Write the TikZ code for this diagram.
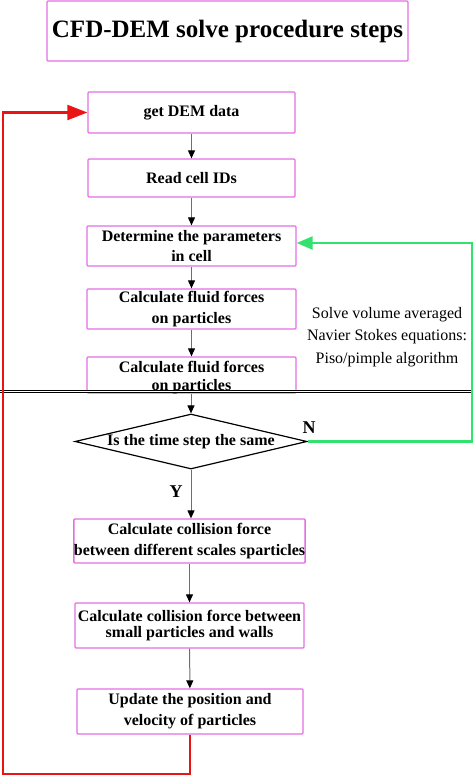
\documentclass[tikz,border=0pt]{standalone}
\usepackage{fontspec}
\setmainfont{Liberation Serif}
\usetikzlibrary{arrows.meta,shapes.geometric}
\definecolor{boxc}{RGB}{228,110,228}
\definecolor{redc}{RGB}{235,20,20}
\definecolor{greenc}{RGB}{50,225,110}
\definecolor{linec}{RGB}{110,110,110}
\tikzset{
  box/.style={draw=boxc, line width=1.3pt, rounded corners=1pt, align=center, inner sep=0pt, font=\bfseries\fontsize{16}{20}\selectfont},
  flow/.style={draw=linec, line width=1pt, -{Triangle[black,length=8pt,width=7pt]}},
  loopr/.style={draw=redc, line width=2.2pt, -{Triangle[redc,length=20pt,width=15pt]}},
  loopg/.style={draw=greenc, line width=2.2pt, -{Triangle[greenc,length=16pt,width=13pt]}},
  lab/.style={font=\bfseries\fontsize{18}{20}\selectfont, inner sep=0pt}
}
\begin{document}
\begin{tikzpicture}[x=1pt,y=-1pt]
\useasboundingbox (0,0) rectangle (474,777);
\node[box, minimum width=361pt, minimum height=60pt, font=\bfseries\fontsize{25}{28}\selectfont] (title) at (227.5,31) {CFD-DEM solve procedure steps};
\node[box, minimum width=207pt, minimum height=41pt] (b1) at (191.5,112.5) {get DEM data};
\node[box, minimum width=207pt, minimum height=38pt] (b2) at (191.5,178) {Read cell IDs};
\node[box, minimum width=209pt, minimum height=40pt] (b3) at (191.5,246) {Determine the parameters\\in cell};
\node[box, minimum width=209pt, minimum height=40pt, font=\bfseries\fontsize{16}{21}\selectfont] (b4) at (191.5,309) {Calculate fluid forces\\on particles};
\node[box, minimum width=209pt, minimum height=36pt, font=\bfseries\fontsize{16}{21}\selectfont, text depth=0pt] (b5) at (191.5,375) {\raisebox{-2pt}{\shortstack{Calculate fluid forces\\[3pt]on particles}}};
\node[draw=black, line width=1.2pt, diamond, aspect=4.2, minimum width=232pt, minimum height=55pt, inner sep=0pt, font=\bfseries\fontsize{16}{18}\selectfont] (dia) at (191,441.5) {Is the time step the same};
\node[box, minimum width=227pt, minimum height=44pt, font=\bfseries\fontsize{16}{21}\selectfont] (b6) at (189.5,541) {Calculate collision force\\between different scales sparticles};
\node[box, minimum width=229pt, minimum height=45pt, font=\bfseries\fontsize{16}{16}\selectfont] (b7) at (189.5,625.5) {Calculate collision force between\\small particles and walls};
\node[box, minimum width=226pt, minimum height=45pt, font=\bfseries\fontsize{16}{21}\selectfont] (b8) at (190,711.5) {Update the position and\\velocity of particles};
\node[align=center, inner sep=0pt, font=\fontsize{16}{22.5}\selectfont] (side) at (387,337) {Solve volume averaged\\Navier Stokes equations:\\Piso/pimple algorithm};
\node[lab] (N) at (309,428) {N};
\node[lab] (Y) at (176,492) {Y};
\coordinate (dl1) at (0,391.5);
\coordinate (dl2) at (472,391.5);
\coordinate (g1) at (472,243);
\coordinate (rc) at (3,774);
\draw[flow] (b1) -- (b2);
\draw[flow] (b2) -- (b3);
\draw[flow] (b3) -- (b4);
\draw[flow] (b4) -- (b5);
\draw[flow] (b5.south -| dia.north) -- (dia.north);
\draw[flow] (dia.south) -- (dia.south |- b6.north);
\draw[flow] (b6.south -| b7.north) -- (b7);
\draw[flow] (b7) -- (b8);
\draw[black, line width=0.8pt, double=white, double distance=1.4pt] (dl1) -- (dl2);
\draw[loopg] (dia.east) -| (g1) -- (b3.east |- g1);
\draw[loopr] (b8.south) |- (rc) |- (b1.west);
\end{tikzpicture}
\end{document}
